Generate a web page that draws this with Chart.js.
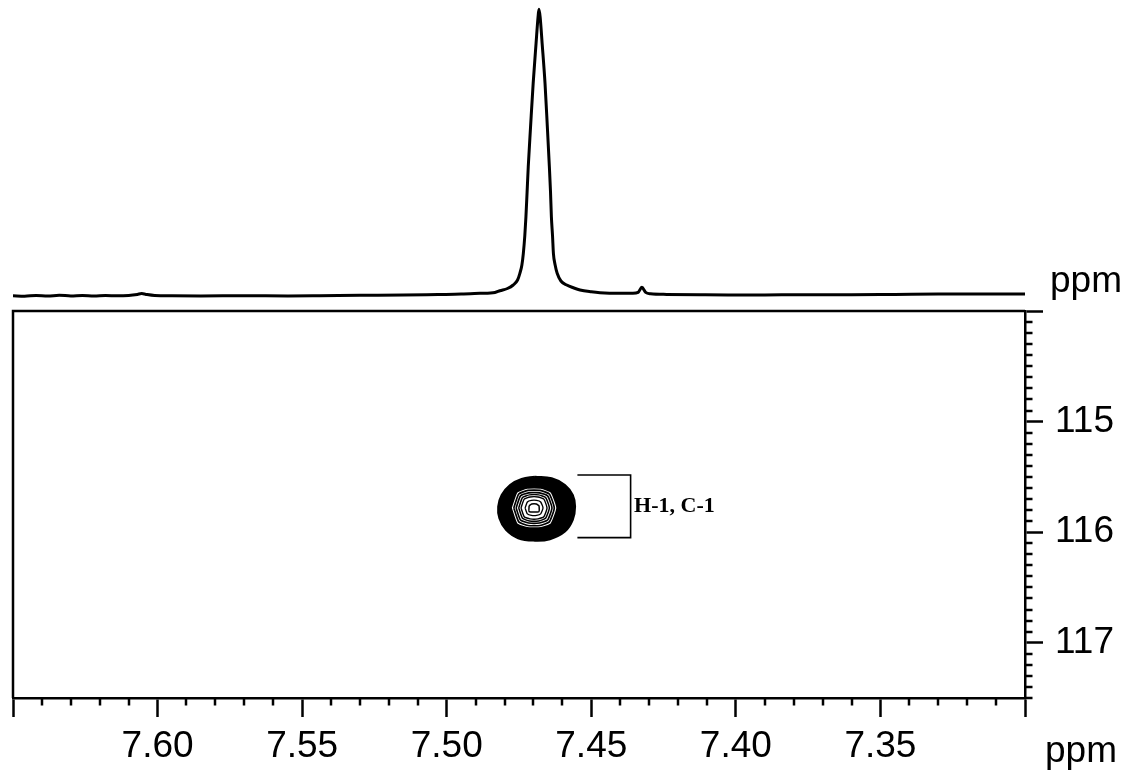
<!DOCTYPE html>
<html><head><meta charset="utf-8">
<script src="https://cdn.jsdelivr.net/npm/chart.js@4.4.1/dist/chart.umd.min.js"></script>
<style>
html,body{margin:0;padding:0;background:#fff;width:1140px;height:774px;overflow:hidden}
#c1{position:absolute;left:0;top:0}
#c2{position:absolute;left:0;top:271px}
</style></head><body>
<canvas id="c1" width="1140" height="310"></canvas>
<canvas id="c2" width="1140" height="503"></canvas>
<script>
// ---------- DATA ----------
// 1H projection trace (ppm, relative intensity)
const traceShift = [7.650,7.646,7.642,7.638,7.634,7.630,7.626,7.622,7.618,7.614,7.610,7.607,7.6055,7.604,7.601,7.595,7.585,7.570,7.555,7.544,7.530,7.515,7.503,7.495,7.4885,7.4833,7.4816,7.4790,7.4770,7.4755,7.4747,7.4740,7.4735,7.4730,7.4726,7.4722,7.4718,7.4710,7.4701,7.4691,7.4684,7.4681,7.4677,7.4670,7.4660,7.4652,7.4645,7.4641,7.4638,7.4634,7.4631,7.4625,7.4618,7.4605,7.4585,7.4560,7.4539,7.4500,7.4470,7.4401,7.4356,7.4338,7.4325,7.4312,7.4295,7.4239,7.4124,7.4027,7.390,7.375,7.360,7.345,7.330,7.315,7.300];
const traceIntensity = [0.3,-0.2,0.6,0.0,0.7,0.1,0.6,0.0,0.5,0.2,0.6,1.6,2.4,1.6,0.5,0.2,0.1,0.2,0.1,0.3,0.7,0.9,1.5,1.9,2.7,3.6,5.3,7.5,11,16,22.7,31,42.7,60,79.3,104,129.3,169.3,212.7,252.7,279.3,286.7,279.3,252.7,212.7,169.3,129.3,104,79.3,60,42.7,31,22.7,15,11,8,6,4.2,3.3,2.7,2.7,3.6,8.7,3.6,2.2,1.6,1.2,1.0,1.1,1.3,1.3,1.6,1.9,2.0,2.0];

// HSQC cross peak contours (1H ppm, 13C ppm)
const contourOuter = [[7.4695,115.498],[7.4637,115.513],[7.4591,115.573],[7.4564,115.664],[7.4556,115.769],[7.4564,115.890],[7.4591,115.995],[7.4643,116.064],[7.4695,116.077],[7.4753,116.055],[7.4795,115.980],[7.4818,115.874],[7.4822,115.769],[7.4810,115.664],[7.4781,115.573],[7.4741,115.519],[7.4695,115.498]];
const contourRing1 = [[7.4778,115.781],[7.4758,115.636],[7.4722,115.600],[7.4674,115.600],[7.4638,115.636],[7.4618,115.781],[7.4638,115.926],[7.4674,115.962],[7.4722,115.962],[7.4758,115.926],[7.4778,115.781]];
const contourRing2 = [[7.4768,115.781],[7.4751,115.655],[7.4719,115.622],[7.4677,115.622],[7.4645,115.655],[7.4628,115.781],[7.4645,115.907],[7.4677,115.940],[7.4719,115.940],[7.4751,115.907],[7.4768,115.781]];
const contourRing3 = [[7.4760,115.781],[7.4745,115.672],[7.4717,115.645],[7.4679,115.645],[7.4651,115.672],[7.4636,115.781],[7.4651,115.890],[7.4679,115.917],[7.4717,115.917],[7.4745,115.890],[7.4760,115.781]];
const contourRing4 = [[7.4751,115.781],[7.4738,115.687],[7.4714,115.663],[7.4682,115.663],[7.4658,115.687],[7.4645,115.781],[7.4658,115.875],[7.4682,115.899],[7.4714,115.899],[7.4738,115.875],[7.4751,115.781]];
const contourRing5 = [[7.4743,115.781],[7.4732,115.701],[7.4712,115.682],[7.4684,115.682],[7.4664,115.701],[7.4653,115.781],[7.4664,115.861],[7.4684,115.880],[7.4712,115.880],[7.4732,115.861],[7.4743,115.781]];
const contourRing6 = [[7.4729,115.781],[7.4721,115.727],[7.4707,115.713],[7.4689,115.713],[7.4675,115.727],[7.4667,115.781],[7.4675,115.835],[7.4689,115.849],[7.4707,115.849],[7.4721,115.835],[7.4729,115.781]];
const contourRing7 = [[7.4715,115.762],[7.4706,115.745],[7.4690,115.745],[7.4681,115.762],[7.4681,115.815],[7.4715,115.815],[7.4715,115.762]];

// assignment bracket and label
const bracketPoints = [[7.4548,115.483],[7.4364,115.483],[7.4364,116.050],[7.4548,116.050]];
const labelText = 'H-1, C-1';
const labelPos = [7.4352,115.763];

// axes
const xMin = 7.30, xMax = 7.65;
const yMin = 114.0, yMax = 117.5;
const xMajorTicks = [7.30,7.35,7.40,7.45,7.50,7.55,7.60,7.65];
const xTickLabels = ['', '7.35','7.40','7.45','7.50','7.55','7.60',''];
const yMajorTicks = [114,115,116,117];
const yTickLabels = ['', '115','116','117'];
const xMinorStep = 0.01, yMinorStep = 0.1;
const axisUnit = 'ppm';

// ---------- CHARTS ----------
Chart.defaults.font.family = '"Liberation Sans", Arial, Helvetica, sans-serif';
Chart.defaults.color = '#000';
const FONT = 37;
const pts = a => a.map(p => ({x:p[0], y:p[1]}));

const trace = traceShift.map((s,i)=>({x:s, y:traceIntensity[i]}));

new Chart(document.getElementById('c1'), {
  type:'scatter',
  data:{datasets:[{data:trace, showLine:true, borderColor:'#000', borderWidth:3, pointRadius:0, cubicInterpolationMode:'monotone', fill:false}]},
  options:{
    responsive:false, animation:false, devicePixelRatio:1,
    layout:{padding:{left:13, right:115, top:0, bottom:0}},
    plugins:{legend:{display:false}, tooltip:{enabled:false}},
    scales:{
      x:{type:'linear', reverse:true, min:xMin, max:xMax, display:false},
      y:{type:'linear', min:-14, max:296, display:false}
    }
  },
  plugins:[{id:'ppmTop', afterDraw(chart){
    const ctx = chart.ctx, a = chart.chartArea;
    ctx.save(); ctx.fillStyle='#000'; ctx.font = FONT+'px "Liberation Sans", Arial, sans-serif';
    ctx.textBaseline='alphabetic'; ctx.textAlign='left';
    ctx.fillText(axisUnit, a.right + 25, 292);
    ctx.restore();
  }}]
});

const frame = {id:'frame', afterDraw(chart){
  const ctx = chart.ctx, a = chart.chartArea, xs = chart.scales.x, ys = chart.scales.y;
  ctx.save();
  ctx.strokeStyle = '#000'; ctx.lineWidth = 2.5; ctx.lineCap='butt';
  ctx.beginPath();
  ctx.moveTo(a.left, a.bottom); ctx.lineTo(a.left, a.top); ctx.lineTo(a.right, a.top);
  ctx.stroke();
  ctx.beginPath();
  const nx = Math.round((xMax - xMin)/xMinorStep);
  for (let i=1;i<nx;i++){ if (i%5===0) continue; const px = Math.round(xs.getPixelForValue(xMin + i*xMinorStep)); ctx.moveTo(px, a.bottom); ctx.lineTo(px, a.bottom+7.5); }
  const ny = Math.round((yMax - yMin)/yMinorStep);
  for (let i=1;i<=ny;i++){ if (i%10===0) continue; const py = Math.round(ys.getPixelForValue(yMin + i*yMinorStep)); ctx.moveTo(a.right, py); ctx.lineTo(a.right+7.5, py); }
  ctx.stroke();
  // label and unit
  ctx.fillStyle = '#000';
  ctx.font = 'bold 22px "Liberation Serif", "Times New Roman", serif';
  ctx.textBaseline = 'middle'; ctx.textAlign = 'left';
  ctx.fillText(labelText, xs.getPixelForValue(labelPos[0]), ys.getPixelForValue(labelPos[1]));
  ctx.font = FONT+'px "Liberation Sans", Arial, sans-serif';
  ctx.textBaseline = 'alphabetic';
  ctx.fillText(axisUnit, a.right + 20, a.bottom + 64);
  ctx.restore();
}};

const ringDs = (arr, order, lw, fillWhite) => ({data:pts(arr), showLine:true, borderColor:'#000', borderWidth:lw, pointRadius:0, tension:0.15, order:order, fill: fillWhite ? 'shape' : false, backgroundColor:'#fff'});

new Chart(document.getElementById('c2'), {
  type:'scatter',
  data:{datasets:[
    {data:pts(contourOuter), showLine:true, borderColor:'#000', borderWidth:2, pointRadius:0, tension:0.4, fill:'shape', backgroundColor:'#000', order:20},
    ringDs(contourRing1, 19, 1.8, true),
    ringDs(contourRing2, 18, 1.7, false),
    ringDs(contourRing3, 17, 1.6, false),
    ringDs(contourRing4, 16, 1.5, false),
    ringDs(contourRing5, 15, 1.4, false),
    ringDs(contourRing6, 14, 1.3, false),
    ringDs(contourRing7, 13, 1.5, false),
    {data:pts(bracketPoints), showLine:true, borderColor:'#000', borderWidth:1.6, pointRadius:0, tension:0, fill:false, order:1}
  ]},
  options:{
    responsive:false, animation:false, devicePixelRatio:1,
    layout:{padding:{left:13, right:0, top:40, bottom:0}},
    plugins:{legend:{display:false}, tooltip:{enabled:false}},
    scales:{
      x:{type:'linear', reverse:true, min:xMin, max:xMax, position:'bottom',
        afterBuildTicks(s){ s.ticks = xMajorTicks.map(v=>({value:v})); },
        afterFit(s){ s.height = 76; },
        ticks:{autoSkip:false, maxRotation:0, padding:8, font:{size:FONT}, color:'#000',
          callback(v){ const i = xMajorTicks.findIndex(t=>Math.abs(t-v)<1e-6); return i>=0 ? xTickLabels[i] : ''; }},
        grid:{display:true, drawOnChartArea:false, drawTicks:true, tickLength:19, tickWidth:2.5, tickColor:'#000', color:'#000'},
        border:{display:true, color:'#000', width:2.5}
      },
      y:{type:'linear', reverse:true, min:yMin, max:yMax, position:'right',
        afterBuildTicks(s){ s.ticks = yMajorTicks.map(v=>({value:v})); },
        afterFit(s){ s.width = 115; },
        ticks:{autoSkip:false, padding:12, font:{size:FONT}, color:'#000',
          callback(v){ const i = yMajorTicks.findIndex(t=>Math.abs(t-v)<1e-6); return i>=0 ? yTickLabels[i] : ''; }},
        grid:{display:true, drawOnChartArea:false, drawTicks:true, tickLength:18, tickWidth:2.5, tickColor:'#000', color:'#000'},
        border:{display:true, color:'#000', width:2.5}
      }
    }
  },
  plugins:[frame]
});
</script></body></html>
